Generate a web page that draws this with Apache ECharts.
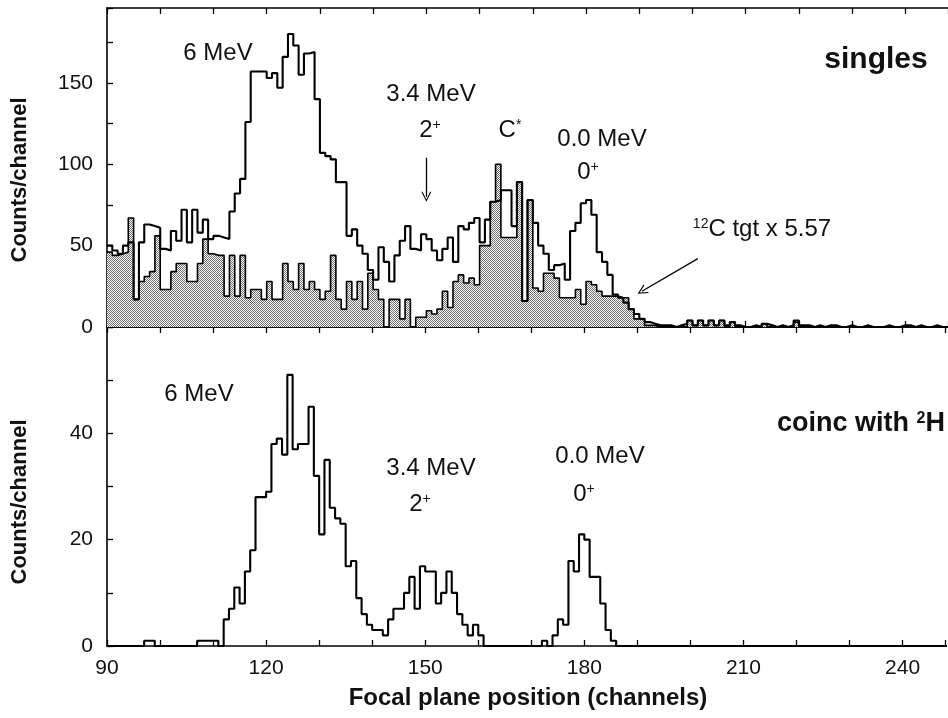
<!DOCTYPE html>
<html>
<head>
<meta charset="utf-8">
<script src="https://cdn.jsdelivr.net/npm/echarts@6/dist/echarts.min.js"></script>
<style>
html,body{margin:0;padding:0;background:#fff;}
#chart{width:948px;height:718px;}
</style>
</head>
<body>
<div id="chart"></div>
<script>
// ---- data (channel 90 .. 249, one value per channel) ----
const CH_FIRST = 90;
const singles = [
 50,47,45,50,52,17,52,63,62,61,
 48,47,59,53,72,52,72,58,66,54,
 56,55,54,71,82,91,126,157,157,157,
 153,156,147,166,180,173,155,168,169,140,
 107,105,103,89,89,56,60,50,45,35,
 29,49,40,28,44,53,62,48,47,57,
 54,47,41,48,55,40,62,60,64,67,
 52,66,77,78,84,84,62,89,16,78,
 64,50,45,35,38,39,29,59,64,76,
 78,69,46,40,32,20,18,15,11,8,
 5,3,2,1,1,1,0,1,2,4,
 1,4,1,4,1,4,1,3,1,0,
 0,1,0,2,1,0,1,0,1,4,
 1,1,0,1,0,1,1,0,0,1,
 0,0,1,0,0,0,1,0,0,1,
 1,0,1,0,0,1,0,0,1,0
];
const carbonScaled = [
 46,44,45,46,67,17,28,31,34,56,
 23,23,34,39,39,28,28,39,54,45,
 44,44,19,44,19,44,18,23,23,17,
 28,17,17,39,28,23,39,23,28,23,
 17,22,44,17,11,28,17,28,11,33,
 23,17,0,17,17,5,17,0,6,6,
 10,8,11,22,12,28,32,27,30,26,
 50,50,77,100,55,55,55,89,16,78,
 24,22,33,33,30,18,18,18,23,14,
 28,26,22,19,19,19,18,18,11,5,
 5,1,1,0,0,0,0,0,0,4,
 1,4,1,4,1,4,0,3,0,0,
 0,0,0,2,0,0,0,0,0,3,
 0,0,0,0,0,0,0,0,0,0,
 0,0,0,0,0,0,0,0,0,0,
 0,0,0,0,0,0,0,0,0,0
];
const coinc = [
 0,0,0,0,0,0,0,1,1,0,
 0,0,0,0,0,0,0,1,1,1,
 1,0,5,7,11,8,14,18,28,28,
 29,38,39,36,51,37,38,38,45,32,
 21,35,26,24,23,15,16,9,6,4,
 3,3,2,5,7,7,10,13,7,15,
 14,14,8,10,14,10,6,4,2,4,
 2,0,0,0,0,0,0,0,0,0,
 0,0,1,0,2,5,4,16,14,21,
 20,13,13,8,3,1,0,0,0,0,
 0,0,0,0,0,0,0,0,0,0,
 0,0,0,0,0,0,0,0,0,0,
 0,0,0,0,0,0,0,0,0,0,
 0,0,0,0,0,0,0,0,0,0,
 0,0,0,0,0,0,0,0,0,0,
 0,0,0,0,0,0,0,0,0,0
];
const xTickLabels = [90,120,150,180,210,240];
const yTopLabels = [0,50,100,150];
const yBottomLabels = [0,20,40];
// arrows in data coordinates [channel, counts]
const arrow2plus = [[150, 104], [150, 80]];
const arrowCarbon = [[201, 42], [190.5, 22]];

// histogram -> step points (bin k covers [k, k+1])
function steps(arr) {
  const pts = arr.map((v, i) => [CH_FIRST + i, v]);
  pts.push([CH_FIRST + arr.length, arr[arr.length - 1]]);
  return pts;
}

// stipple pattern for shaded histogram
const pat = document.createElement('canvas');
pat.width = 2; pat.height = 2;
const pc = pat.getContext('2d');
pc.fillStyle = '#ffffff'; pc.fillRect(0, 0, 2, 2);
pc.fillStyle = '#707070'; pc.fillRect(0, 0, 1, 1); pc.fillRect(1, 1, 1, 1);

const FONT = '"Liberation Sans", Arial, Helvetica, sans-serif';
const INK = '#111';
const X_MAX = 248;

function xAxisCfg(grid, pos, showLabels) {
  return {
    type: 'value', gridIndex: grid, position: pos, min: 90, max: X_MAX, interval: 10,
    axisLine: { show: true, lineStyle: { color: '#000', width: 1.6 } },
    axisTick: { show: true, inside: true, length: 6, lineStyle: { color: '#000', width: 1.3 } },
    splitLine: { show: false },
    axisLabel: {
      show: showLabels, margin: 12, color: INK, fontSize: 21, fontFamily: FONT,
      formatter: v => xTickLabels.indexOf(v) >= 0 ? String(v) : ''
    }
  };
}
function yAxisCfg(grid, max, interval, labels) {
  return {
    type: 'value', gridIndex: grid, min: 0, max: max, interval: interval,
    axisLine: { show: true, lineStyle: { color: '#000', width: 1.6 } },
    axisTick: { show: true, inside: true, length: 6, lineStyle: { color: '#000', width: 1.3 } },
    splitLine: { show: false },
    axisLabel: {
      margin: 14, color: INK, fontSize: 21, fontFamily: FONT,
      formatter: v => labels.indexOf(v) >= 0 ? String(v) : ''
    }
  };
}

function txt(x, y, text, size, bold, rich) {
  const st = {
    text: text, x: 0, y: 0, fill: INK,
    font: (bold ? 'bold ' : '') + size + 'px ' + FONT,
    textAlign: 'center', textVerticalAlign: 'middle'
  };
  if (rich) st.rich = rich;
  return { type: 'text', x: x, y: y, style: st, z: 10 };
}
function supRich(size, bold) {
  const w = bold ? 'bold' : 'normal';
  return {
    n: { fontSize: size, fontFamily: FONT, fontWeight: w, fill: INK, color: INK, lineHeight: size },
    s: { fontSize: Math.round(size * 0.58), fontFamily: FONT, fontWeight: w, fill: INK, color: INK, verticalAlign: 'top', lineHeight: Math.round(size * 0.58) }
  };
}

const chart = echarts.init(document.getElementById('chart'), null, { renderer: 'canvas' });
chart.setOption({
  animation: false,
  backgroundColor: '#fff',
  grid: [
    { left: 107, top: 8, right: 0, height: 319 },
    { left: 107, top: 327, right: 0, height: 319 }
  ],
  xAxis: [
    xAxisCfg(0, 'bottom', false),
    xAxisCfg(0, 'top', false),
    xAxisCfg(1, 'bottom', true),
    xAxisCfg(1, 'top', false)
  ],
  yAxis: [
    yAxisCfg(0, 196, 25, yTopLabels),
    yAxisCfg(1, 60, 10, yBottomLabels)
  ],
  series: [
    {
      name: '12C tgt x 5.57', type: 'line', step: 'end', xAxisIndex: 0, yAxisIndex: 0,
      data: steps(carbonScaled), symbol: 'none', z: 2,
      lineStyle: { color: '#000', width: 1.6 },
      areaStyle: { color: { image: pat, repeat: 'repeat' }, opacity: 1 }
    },
    {
      name: 'singles', type: 'line', step: 'end', xAxisIndex: 0, yAxisIndex: 0,
      data: steps(singles), symbol: 'none', z: 3,
      lineStyle: { color: '#000', width: 2.1 },
      markLine: {
        silent: true, animation: false,
        symbol: ['none', 'path://M5,0 L10,11 L8.8,11 L5,2.6 L1.2,11 L0,11 Z'],
        symbolSize: 10,
        label: { show: false },
        lineStyle: { color: '#000', width: 1.3, type: 'solid' },
        data: [
          [{ coord: arrow2plus[0] }, { coord: arrow2plus[1] }],
          [{ coord: arrowCarbon[0] }, { coord: arrowCarbon[1] }]
        ]
      }
    },
    {
      name: 'coinc with 2H', type: 'line', step: 'end', xAxisIndex: 2, yAxisIndex: 1,
      data: steps(coinc), symbol: 'none', z: 3,
      lineStyle: { color: '#000', width: 2.1 }
    }
  ],
  graphic: [
    txt(218, 53, '6 MeV', 24),
    txt(431, 94, '3.4 MeV', 24),
    txt(430, 130, '{n|2}{s|+}', 24, false, supRich(24, false)),
    txt(510, 130, '{n|C}{s|*}', 24, false, supRich(24, false)),
    txt(602, 139, '0.0 MeV', 24),
    txt(588, 172, '{n|0}{s|+}', 24, false, supRich(24, false)),
    txt(762, 229, '{s|12}{n|C tgt x 5.57}', 24, false, supRich(24, false)),
    txt(876, 60, 'singles', 30, true),
    txt(199, 394, '6 MeV', 24),
    txt(431, 468, '3.4 MeV', 24),
    txt(420, 504, '{n|2}{s|+}', 24, false, supRich(24, false)),
    txt(600, 456, '0.0 MeV', 24),
    txt(584, 494, '{n|0}{s|+}', 24, false, supRich(24, false)),
    txt(861, 424, '{n|coinc with }{s|2}{n|H}', 27, true, supRich(27, true)),
    { type: 'text', x: 20, y: 180, rotation: Math.PI / 2, z: 10,
      style: { text: 'Counts/channel', font: 'bold 22px ' + FONT, fill: INK, textAlign: 'center', textVerticalAlign: 'middle' } },
    { type: 'text', x: 20, y: 502, rotation: Math.PI / 2, z: 10,
      style: { text: 'Counts/channel', font: 'bold 22px ' + FONT, fill: INK, textAlign: 'center', textVerticalAlign: 'middle' } },
    txt(528, 698, 'Focal plane position (channels)', 24, true)
  ]
});
</script>
</body>
</html>
